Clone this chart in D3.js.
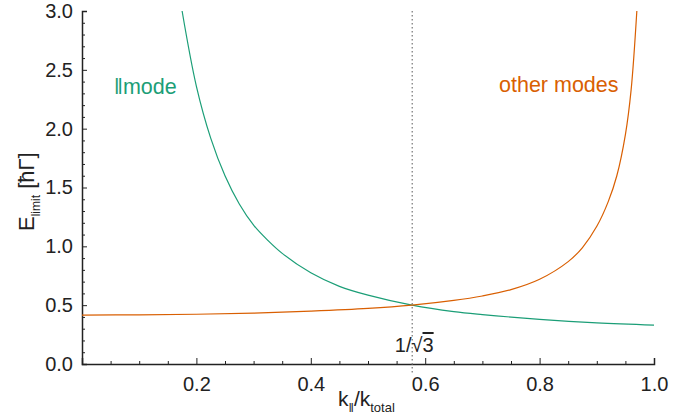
<!DOCTYPE html>
<html>
<head>
<meta charset="utf-8">
<script src="https://cdn.jsdelivr.net/npm/d3@7"></script>
<style>
  body { margin: 0; background: #fff; }
  text { font-family: "Liberation Sans", Arial, sans-serif; }
</style>
</head>
<body>
<div id="chart"></div>
<script>
// data
var parX = [0.175, 0.2, 0.225, 0.25, 0.275, 0.3, 0.325, 0.35, 0.4, 0.45, 0.5, 0.577, 0.65, 0.7, 0.8, 0.9, 1.0];
var parY = [3.0, 2.36, 1.92, 1.60, 1.36, 1.18, 1.05, 0.94, 0.775, 0.66, 0.585, 0.50, 0.445, 0.42, 0.38, 0.35, 0.331];

var otherX = [0.0, 0.1, 0.2, 0.3, 0.4, 0.5, 0.577, 0.65, 0.7, 0.75, 0.8, 0.85, 0.875, 0.9, 0.92, 0.935, 0.95, 0.96, 0.97];
var otherY = [0.416, 0.418, 0.423, 0.432, 0.449, 0.472, 0.50, 0.54, 0.578, 0.632, 0.72, 0.87, 0.99, 1.17, 1.38, 1.6, 1.95, 2.33, 3.0];

var xTicks = [0.2, 0.4, 0.6, 0.8, 1.0];
var yTicks = [0.0, 0.5, 1.0, 1.5, 2.0, 2.5, 3.0];
var markX = 1 / Math.sqrt(3);

var svgWidth = 685;
var svgHeight = 420;
var margin = { top: 11, right: 31, bottom: 56, left: 82 };
var chartWidth = svgWidth - margin.left - margin.right;
var chartHeight = svgHeight - margin.top - margin.bottom;

var green = "#1b9e77";
var orange = "#d95f02";

var svg = d3.select("#chart")
  .append("svg")
  .attr("width", svgWidth)
  .attr("height", svgHeight);

var chartGroup = svg.append("g")
  .attr("transform", `translate(${margin.left}, ${margin.top})`);

var xScale = d3.scaleLinear().domain([0, 1]).range([0, chartWidth]);
var yScale = d3.scaleLinear().domain([0, 3]).range([chartHeight, 0]);

// minor ticks
var xMinor = d3.range(0.05, 1.001, 0.05).filter(v => Math.abs(v * 5 - Math.round(v * 5)) > 1e-6);
var yMinor = d3.range(0.1, 3.001, 0.1).filter(v => Math.abs(v * 2 - Math.round(v * 2)) > 1e-6);

chartGroup.append("g")
  .attr("transform", `translate(0, ${chartHeight})`)
  .call(d3.axisBottom(xScale).tickValues(xMinor).tickSize(-3).tickFormat(""))
  .call(g => g.select(".domain").remove());

chartGroup.append("g")
  .call(d3.axisLeft(yScale).tickValues(yMinor).tickSize(-3).tickFormat(""))
  .call(g => g.select(".domain").remove());

var bottomAxis = d3.axisBottom(xScale).tickValues(xTicks).tickSize(-6).tickPadding(13).tickFormat(d3.format(".1f"));
var leftAxis = d3.axisLeft(yScale).tickValues(yTicks).tickSize(-5).tickPadding(9).tickFormat(d3.format(".1f"));

var xAxisG = chartGroup.append("g")
  .attr("transform", `translate(0, ${chartHeight})`)
  .call(bottomAxis);

var yAxisG = chartGroup.append("g")
  .call(leftAxis);

[xAxisG, yAxisG].forEach(function(g) {
  g.selectAll("text").style("font-size", "20px").attr("fill", "#222");
  g.select(".domain").attr("stroke", "#222").attr("stroke-width", 1.5);
});
chartGroup.selectAll(".tick line").attr("stroke", "#222");

// dotted line at 1/sqrt(3)
chartGroup.append("line")
  .attr("x1", xScale(markX)).attr("x2", xScale(markX))
  .attr("y1", yScale(3)).attr("y2", chartHeight + 9)
  .attr("stroke", "#888")
  .attr("stroke-width", 1.4)
  .attr("stroke-dasharray", "1.5,2.5");

var line = d3.line()
  .x(d => xScale(d[0]))
  .y(d => yScale(d[1]))
  .curve(d3.curveCatmullRom.alpha(0.5));

chartGroup.append("path")
  .datum(d3.zip(parX, parY))
  .attr("d", line)
  .attr("fill", "none")
  .attr("stroke", green)
  .attr("stroke-width", 1.2);

chartGroup.append("path")
  .datum(d3.zip(otherX, otherY))
  .attr("d", line)
  .attr("fill", "none")
  .attr("stroke", orange)
  .attr("stroke-width", 1.2);

// labels
var markLabel = chartGroup.append("text")
  .attr("x", xScale(markX) + 2)
  .attr("y", yScale(0) - 12)
  .attr("text-anchor", "middle")
  .style("font-size", "20px")
  .attr("fill", "#222");
markLabel.append("tspan").text("1/√");
markLabel.append("tspan").style("text-decoration", "overline").text("3");

svg.append("text")
  .attr("x", 114)
  .attr("y", 94)
  .style("font-size", "21.5px")
  .attr("fill", green)
  .text("‖mode");

svg.append("text")
  .attr("x", 499)
  .attr("y", 92)
  .style("font-size", "21.5px")
  .attr("fill", orange)
  .text("other modes");

// axis titles
var xTitle = svg.append("text")
  .attr("x", 338)
  .attr("y", 406)
  .style("font-size", "21px")
  .attr("fill", "#222");
xTitle.append("tspan").text("k");
xTitle.append("tspan").attr("dy", 6).style("font-size", "13px").text("‖");
xTitle.append("tspan").attr("dy", -6).text("/k");
xTitle.append("tspan").attr("dy", 6).style("font-size", "13px").text("total");

var yTitle = svg.append("text")
  .attr("transform", "translate(34, 231) rotate(-90)")
  .style("font-size", "22px")
  .attr("fill", "#222");
yTitle.append("tspan").text("E");
yTitle.append("tspan").attr("dy", 6).style("font-size", "12px").text("limit");
yTitle.append("tspan").attr("dy", -6).text(" [ħΓ]");
</script>
</body>
</html>
